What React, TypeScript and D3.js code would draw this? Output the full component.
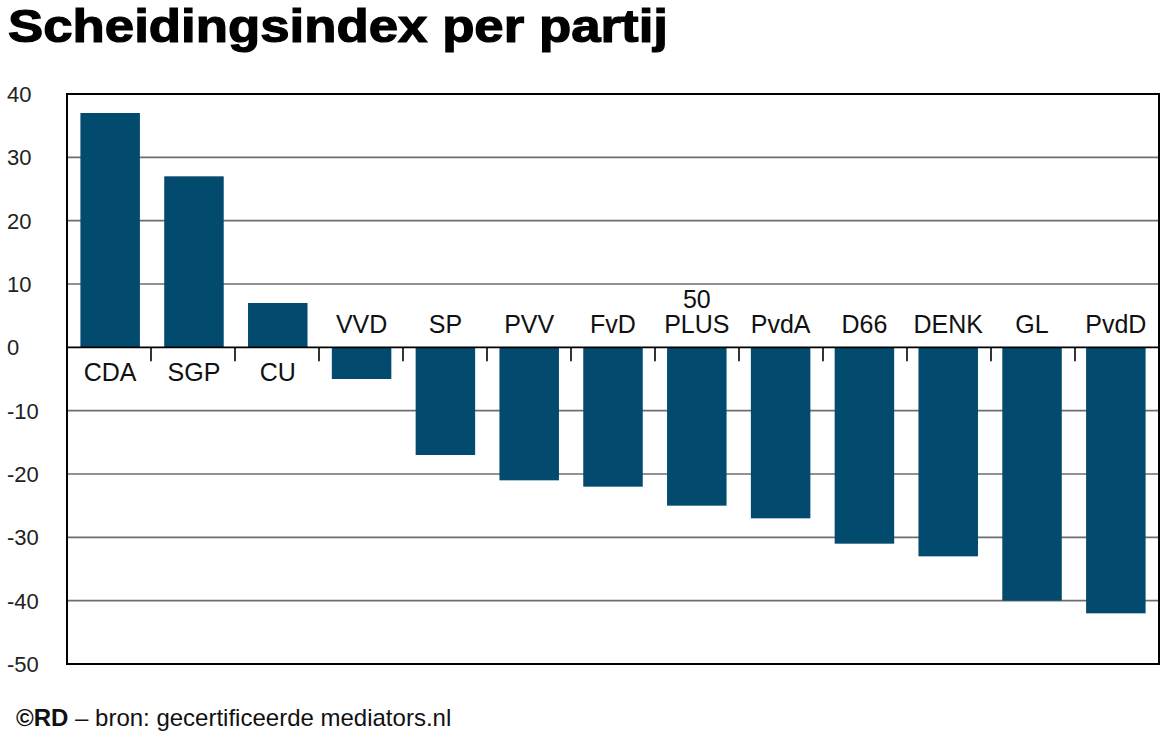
import React from "react";
import * as d3 from "d3";

const categories = ["CDA", "SGP", "CU", "VVD", "SP", "PVV", "FvD", "50 PLUS", "PvdA", "D66", "DENK", "GL", "PvdD"];
const values = [37, 27, 7, -5, -17, -21, -22, -25, -27, -31, -33, -40, -42];
const yTicks = [40, 30, 20, 10, 0, -10, -20, -30, -40, -50];

const W = 1168;
const H = 736;
const left = 67;
const right = 1159;
const top = 94;
const bottom = 664;
const barColor = "#034b6e";
const font = "'Liberation Sans', Arial, Helvetica, sans-serif";

export default function App() {
  const x = d3.scaleBand<string>().domain(categories).range([left, right]).paddingInner(0.29).paddingOuter(0.16);
  const y = d3.scaleLinear().domain([-50, 40]).range([bottom, top]);
  const bandStart = (i: number) => left + i * ((right - left) / categories.length);
  const y0 = y(0);

  return (
    <svg width={W} height={H} style={{ position: "absolute", left: 0, top: 0, background: "#fff" }} fontFamily={font}>
      <rect x={0} y={0} width={W} height={H} fill="#fff" />
      <text x={8} y={42} fontSize={47} fontWeight={900} fill="#000" stroke="#000" strokeWidth={1.2}
        textLength={660} lengthAdjust="spacingAndGlyphs">Scheidingsindex per partij</text>

      {yTicks.filter(t => t !== 0 && t !== 40 && t !== -50).map(t => (
        <line key={"g" + t} x1={left} x2={right} y1={y(t)} y2={y(t)} stroke="#6e6e6e" strokeWidth={1.6} />
      ))}

      {yTicks.map(t => (
        <text key={"t" + t} x={7} y={y(t)} dy="0.36em" fontSize={22} fill="#222">{t}</text>
      ))}

      {categories.slice(1).map((c, i) => (
        <line key={"k" + c} x1={bandStart(i + 1)} x2={bandStart(i + 1)} y1={y0} y2={y0 + 14} stroke="#000" strokeWidth={1.6} />
      ))}

      {categories.map((c, i) => {
        const v = values[i];
        return (
          <rect key={"b" + c} x={x(c)} width={x.bandwidth()} y={Math.min(y(v), y0)} height={Math.abs(y(v) - y0)} fill={barColor} />
        );
      })}

      <line x1={left} x2={right} y1={y0} y2={y0} stroke="#000" strokeWidth={1.6} />
      <rect x={left} y={top} width={right - left} height={bottom - top} fill="none" stroke="#000" strokeWidth={2} />

      {categories.map((c, i) => {
        const v = values[i];
        const cx = (x(c) as number) + x.bandwidth() / 2;
        const parts = c.split(" ");
        if (v >= 0) {
          return (
            <text key={"l" + c} x={cx} y={y0 + 34} textAnchor="middle" fontSize={25} fill="#111">{c}</text>
          );
        }
        return (
          <text key={"l" + c} x={cx} textAnchor="middle" fontSize={25} fill="#111">
            {parts.map((p, j) => (
              <tspan key={j} x={cx} y={y0 - 14 - (parts.length - 1 - j) * 25}>{p}</tspan>
            ))}
          </text>
        );
      })}

      <text x={16} y={726} fontSize={24} fill="#111">
        <tspan fontWeight="bold">©RD</tspan>
        <tspan> – bron: gecertificeerde mediators.nl</tspan>
      </text>
    </svg>
  );
}
